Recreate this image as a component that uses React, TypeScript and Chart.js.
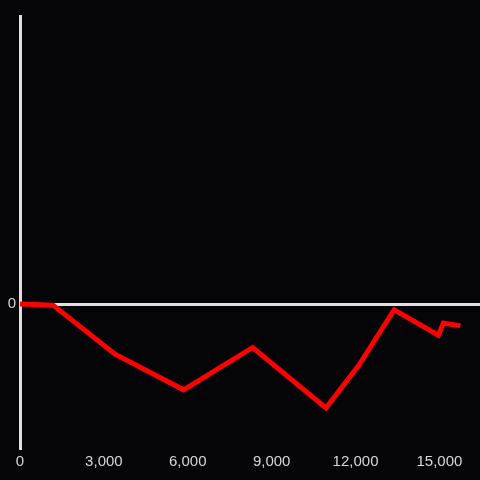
import React, { useEffect, useRef } from "react";
import { Chart, registerables } from "chart.js";

Chart.register(...registerables);

const xValues = [0, 1180, 3400, 5850, 8320, 10940, 12120, 13380, 14960, 15140, 15750];
const yValues = [0, -0.4, -17.4, -29.8, -15.1, -36.1, -21.2, -2.0, -10.8, -6.6, -7.6];
const xTickLabels = [0, 3000, 6000, 9000, 12000, 15000];
const yTickLabels = [0];

const bgPlugin = {
  id: "bg",
  beforeDraw(chart: any) {
    const ctx = chart.ctx;
    ctx.save();
    ctx.fillStyle = "#050407";
    ctx.fillRect(0, 0, chart.width, chart.height);
    ctx.restore();
  },
};

export default function App() {
  const ref = useRef<HTMLCanvasElement>(null);
  useEffect(() => {
    document.body.style.margin = "0";
    document.body.style.background = "#050407";
    const chart = new Chart(ref.current!, {
      type: "line",
      data: {
        datasets: [
          {
            data: xValues.map((x, i) => ({ x, y: yValues[i] })),
            borderColor: "#ff0000",
            borderWidth: 5,
            pointRadius: 0,
            tension: 0,
            fill: false,
          },
        ],
      },
      options: {
        animation: false,
        responsive: false,
        maintainAspectRatio: false,
        layout: { padding: { top: 16, right: 0, left: 0, bottom: 0 } },
        plugins: { legend: { display: false }, tooltip: { enabled: false } },
        scales: {
          x: {
            type: "linear",
            min: 0,
            max: 16450,
            border: { display: false },
            grid: { display: false, drawTicks: false, tickLength: 0 },
            afterBuildTicks: (s: any) => {
              s.ticks = xTickLabels.map((v) => ({ value: v }));
            },
            ticks: {
              color: "#d8d8d8",
              font: { family: "Liberation Sans, Arial", size: 15 },
              maxRotation: 0,
              autoSkip: false,
              padding: 5,
              callback: (v: any) => Number(v).toLocaleString("en-US"),
            },
            afterFit: (s: any) => {
              s.height = 32;
              s.paddingRight = 0;
              s.paddingLeft = 0;
            },
          },
          y: {
            type: "linear",
            min: -50,
            max: 100,
            border: { display: true, color: "#e0e0e0", width: 3 },
            grid: {
              drawTicks: false,
              lineWidth: (c: any) => (c.tick && c.tick.value === 0 ? 3 : 0),
              color: (c: any) => (c.tick && c.tick.value === 0 ? "#e0e0e0" : "rgba(0,0,0,0)"),
            },
            afterBuildTicks: (s: any) => {
              s.ticks = yTickLabels.map((v) => ({ value: v }));
            },
            ticks: {
              color: "#d8d8d8",
              font: { family: "Liberation Sans, Arial", size: 15 },
              padding: 4,
              callback: (v: any) => String(v),
            },
            afterFit: (s: any) => {
              s.width = 20;
            },
          },
        },
      },
      plugins: [bgPlugin],
    });
    return () => chart.destroy();
  }, []);
  return <canvas ref={ref} width={480} height={480} style={{ display: "block" }} />;
}
